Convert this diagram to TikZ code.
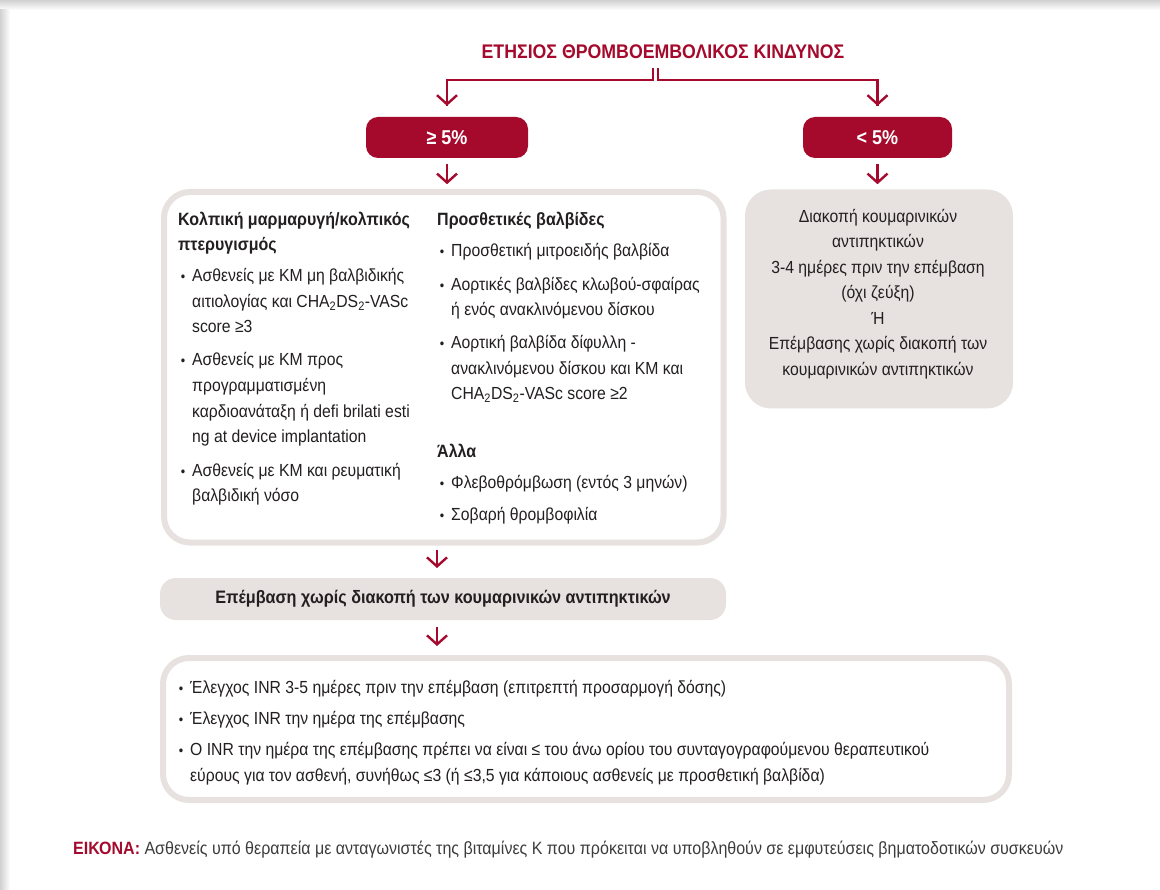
\documentclass[tikz,border=0pt]{standalone}
\usepackage{fontspec}
\setmainfont{Liberation Sans}[FakeStretch=0.9]
\usetikzlibrary{arrows.meta}
\definecolor{crim}{HTML}{A50A2D}
\definecolor{lgray}{HTML}{E7E2DF}
\definecolor{ink}{HTML}{231F20}
\definecolor{capgray}{HTML}{3C3C3C}
\newcommand{\chads}{CHA\textsubscript{2}DS\textsubscript{2}-VASc}
\newcommand{\txtline}[4]{\node[body] (#1) at (#2,#3) {#4};}
\newcommand{\hdline}[4]{\node[head] (#1) at (#2,#3) {#4};}
\newcommand{\bulline}[4]{\node[bul] (#1d) at (#2-9,#3) {•};\node[body] (#1) at (#2,#3) {#4};}
\begin{document}
\begin{tikzpicture}[x=1pt,y=-1pt,
 arr/.style={crim, line width=2.4pt, -{Straight Barb[length=9pt,width=20pt]}},
 conn/.style={crim, line width=2.4pt},
 pill/.style={fill=crim, rounded corners=12pt, text=white, font=\fontsize{20}{22}\selectfont\bfseries, minimum height=41pt, inner sep=0},
 outline/.style={draw=lgray, line width=6pt, fill=white, rounded corners=26pt, inner sep=0},
 gbox/.style={fill=lgray, rounded corners=26pt, inner sep=0},
 body/.style={font=\fontsize{17.5}{25.5}\selectfont, text=ink, anchor=base west, inner sep=0},
 head/.style={body, font=\fontsize{17.8}{25}\selectfont\bfseries},
 bul/.style={font=\fontsize{14}{14}\selectfont, text=ink, anchor=base, inner sep=0},
]
\useasboundingbox (0,0) rectangle (1160,890);
\fill[white] (0,0) rectangle (1160,890);
\shade[top color=black!18, bottom color=white] (0,0) rectangle (1160,10);
\shade[left color=black!18, right color=white] (0,10) rectangle (10,890);

% title
\node[font=\fontsize{19.7}{21}\selectfont\bfseries, text=crim, inner sep=0] (title) at (663,52) {ΕΤΗΣΙΟΣ ΘΡΟΜΒΟΕΜΒΟΛΙΚΟΣ ΚΙΝΔΥΝΟΣ};

% pills
\node[pill, minimum width=162pt] (ge) at (447,137.5) {≥ 5\%};
\node[pill, minimum width=149pt] (lt) at (877.5,137.5) {< 5\%};

% boxes
\node[outline, minimum width=559.5pt, minimum height=350.5pt] (leftbox) at (443.75,367.25) {};
\node[gbox, minimum width=268pt, minimum height=219pt] (rightbox) at (879,299) {};
\node[gbox, rounded corners=16pt, minimum width=566pt, minimum height=42pt, font=\fontsize{18}{20}\selectfont\bfseries, text=ink] (banner) at (443,599) {Επέμβαση χωρίς διακοπή των κουμαρινικών αντιπηκτικών};
\node[outline, minimum width=846pt, minimum height=142pt] (botbox) at (586,729) {};

% connectors
\coordinate (jl) at (653,68);
\coordinate (jr) at (658,68);
\draw[conn] (jl) -- (653,80) -| ([yshift=11pt]ge.north);
\draw[arr] ([yshift=20pt]ge.north) -- ([yshift=11pt]ge.north);
\draw[conn] (jr) -- (658,80) -| ([yshift=11pt]lt.north);
\draw[arr] ([yshift=20pt]lt.north) -- ([yshift=11pt]lt.north);
\draw[arr] ([yshift=-6pt]ge.south) -- ([yshift=-26pt]ge.south);
\draw[arr] ([yshift=-6pt]lt.south) -- ([yshift=-26pt]lt.south);
\coordinate (a3s) at (437,549);
\coordinate (a3e) at (437,568);
\coordinate (a4s) at (437,627);
\coordinate (a4e) at (437,646);
\draw[arr] (leftbox.south -| a3s) ++(0,4) -- (a3e);
\draw[arr] (banner.south -| a4s) ++(0,7) -- (a4e);

% left column
\hdline{h1a}{178}{226}{Κολπική μαρμαρυγή/κολπικός}
\hdline{h1b}{178}{251}{πτερυγισμός}
\bulline{b1a}{192}{282}{Ασθενείς με ΚΜ μη βαλβιδικής}
\txtline{b1b}{192}{308}{αιτιολογίας και \chads}
\txtline{b1c}{192}{333}{score ≥3}
\bulline{b2a}{192}{366}{Ασθενείς με ΚΜ προς}
\txtline{b2b}{192}{392}{προγραμματισμένη}
\txtline{b2c}{192}{418}{καρδιοανάταξη ή defi brilati esti}
\txtline{b2d}{192}{443}{ng at device implantation}
\bulline{b3a}{192}{477}{Ασθενείς με ΚΜ και ρευματική}
\txtline{b3b}{192}{502}{βαλβιδική νόσο}

% right column
\hdline{h2}{437}{226}{Προσθετικές βαλβίδες}
\bulline{c1}{451}{257}{Προσθετική μιτροειδής βαλβίδα}
\bulline{c2a}{451}{291}{Αορτικές βαλβίδες κλωβού-σφαίρας}
\txtline{c2b}{451}{316}{ή ενός ανακλινόμενου δίσκου}
\bulline{c3a}{451}{349}{Αορτική βαλβίδα δίφυλλη -}
\txtline{c3b}{451}{375}{ανακλινόμενου δίσκου και ΚΜ και}
\txtline{c3c}{451}{400}{\chads{} score ≥2}
\hdline{h3}{437}{458}{Άλλα}
\bulline{c4}{451}{489}{Φλεβοθρόμβωση (εντός 3 μηνών)}
\bulline{c5}{451}{520}{Σοβαρή θρομβοφιλία}

% right box text
\node[body, align=center, anchor=north] (rt) at (878,209) {Διακοπή κουμαρινικών\\αντιπηκτικών\\3-4 ημέρες πριν την επέμβαση\\(όχι ζεύξη)\\Ή\\Επέμβασης χωρίς διακοπή των\\κουμαρινικών αντιπηκτικών};

% bottom box
\bulline{d1}{190}{693}{Έλεγχος INR 3-5 ημέρες πριν την επέμβαση (επιτρεπτή προσαρμογή δόσης)}
\bulline{d2}{190}{724}{Έλεγχος INR την ημέρα της επέμβασης}
\bulline{d3a}{190}{755}{Ο INR την ημέρα της επέμβασης πρέπει να είναι ≤ του άνω ορίου του συνταγογραφούμενου θεραπευτικού}
\txtline{d3b}{190}{781}{εύρους για τον ασθενή, συνήθως ≤3 (ή ≤3,5 για κάποιους ασθενείς με προσθετική βαλβίδα)}

% caption
\node[body, font=\fontsize{17.8}{20}\selectfont, text=capgray] (cap) at (73,854) {\textcolor{crim}{\bfseries ΕΙΚΟΝΑ:} Ασθενείς υπό θεραπεία με ανταγωνιστές της βιταμίνες Κ που πρόκειται να υποβληθούν σε εμφυτεύσεις βηματοδοτικών συσκευών};
\end{tikzpicture}
\end{document}
